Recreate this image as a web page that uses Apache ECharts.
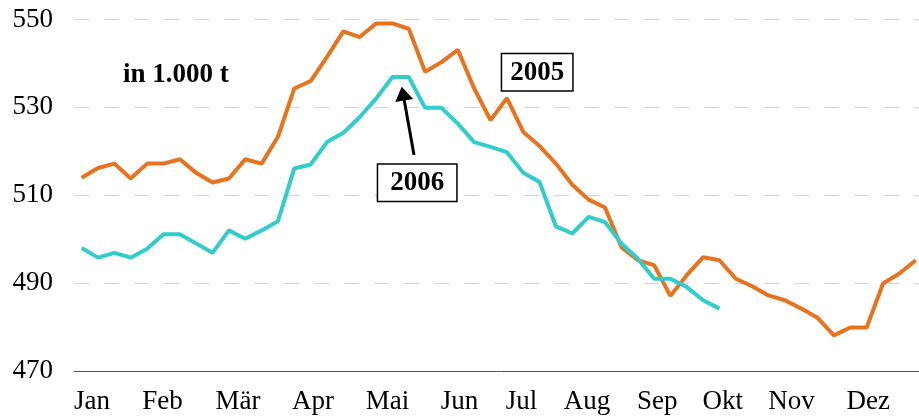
<!DOCTYPE html>
<html>
<head>
<meta charset="utf-8">
<script src="https://cdn.jsdelivr.net/npm/echarts@6/dist/echarts.min.js"></script>
<style>
html,body{margin:0;padding:0;background:#fff;}
#chart{width:919px;height:418px;}
</style>
</head>
<body>
<div id="chart"></div>
<script>
// Weekly stock values, in 1.000 t
var values2005 = [514, 516.2, 517.2, 513.8, 517.2, 517.2, 518.2, 515.1, 512.9, 513.8,
  518.2, 517.2, 523.3, 534.3, 536, 541.5, 547.3, 546, 549.1, 549.1,
  547.9, 538.1, 540.3, 543.1, 534.3, 527.1, 532.1, 524.4, 521.2, 517.2,
  512.4, 509, 507.2, 498.2, 495.2, 494.1, 487.1, 491.8, 495.9, 495.2,
  491, 489.3, 487.2, 486.1, 484.2, 482.1, 478.1, 479.9, 479.9, 489.9,
  492.2, 495.2];
var values2006 = [498, 495.8, 496.9, 495.8, 497.8, 501.1, 501.1, 499, 496.9, 502,
  500.1, 502, 504.1, 516.1, 517, 522.1, 524.2, 527.8, 532, 536.9,
  536.9, 529.9, 529.9, 526.3, 522.1, 521, 519.8, 515.1, 513, 502.9,
  501.3, 505.1, 503.9, 499, 495.6, 491, 491, 489.1, 486.1, 484.2];
var monthLabels = ['Jan','Feb','Mär','Apr','Mai','Jun','Jul','Aug','Sep','Okt','Nov','Dez'];
var monthLabelWeeks = [0.63, 4.94, 9.56, 14.15, 18.7, 23.1, 26.9, 30.9, 35.2, 39.2, 43.4, 48.1];
var yTicks = [470, 490, 510, 530, 550];
var unitText = 'in 1.000 t';
var seriesNames = ['2005', '2006'];

function toPairs(arr){ return arr.map(function(v,i){ return [i, v]; }); }

var serif = '"Liberation Serif", "DejaVu Serif", serif';
var chart = echarts.init(document.getElementById('chart'), null, {renderer:'canvas'});
chart.setOption({
  animation: false,
  backgroundColor: '#ffffff',
  title: {
    text: unitText, left: 123, top: 62, padding: 0,
    textStyle: {fontFamily: serif, fontSize: 27, fontWeight: 'bold', color: '#000'}
  },
  grid: {left: 74, right: 0, top: 19.5, bottom: 47, containLabel: false},
  xAxis: {
    type: 'value', min: -0.47, max: 51.2,
    axisLine: {show: true, onZero: false, lineStyle: {color: '#555', width: 1}},
    axisTick: {show: false},
    splitLine: {show: false},
    axisLabel: {
      customValues: monthLabelWeeks,
      margin: 17,
      fontFamily: serif, fontSize: 27, color: '#000',
      formatter: function(v){
        for (var i = 0; i < monthLabelWeeks.length; i++) {
          if (Math.abs(monthLabelWeeks[i] - v) < 1e-6) return monthLabels[i];
        }
        return '';
      }
    }
  },
  yAxis: {
    type: 'value', min: yTicks[0], max: yTicks[yTicks.length-1], interval: 20,
    axisLine: {show: false}, axisTick: {show: false},
    axisLabel: {margin: 21, fontFamily: serif, fontSize: 27, color: '#000'},
    splitLine: {show: true, lineStyle: {color: '#C4D8EE', width: 1, type: [15, 15]}}
  },
  series: [
    {name: seriesNames[0], type: 'line', data: toPairs(values2005), symbol: 'none',
     lineStyle: {color: '#E8731E', width: 4}, z: 3},
    {name: seriesNames[1], type: 'line', data: toPairs(values2006), symbol: 'none',
     lineStyle: {color: '#33CCCC', width: 4}, z: 4}
  ],
  graphic: [
    {type: 'text', left: 500.7, top: 52.7, z: 10,
     style: {text: seriesNames[0], font: 'bold 27px ' + serif, fill: '#000',
       backgroundColor: '#fff', borderColor: '#000', borderWidth: 1.5,
       padding: [5, 8, 4, 8]}},
    {type: 'text', left: 376.7, top: 163.3, z: 10,
     style: {text: seriesNames[1], font: 'bold 27px ' + serif, fill: '#000',
       backgroundColor: '#fff', borderColor: '#000', borderWidth: 1.5,
       padding: [5, 12, 4, 12]}},
    {type: 'line', z: 10, shape: {x1: 414, y1: 155, x2: 404.2, y2: 100},
     style: {stroke: '#000', lineWidth: 3}},
    {type: 'polygon', z: 10, shape: {points: [[401.7, 86.7], [413.1, 98.9], [395.3, 102.1]]},
     style: {fill: '#000'}}
  ]
});
</script>
</body>
</html>
